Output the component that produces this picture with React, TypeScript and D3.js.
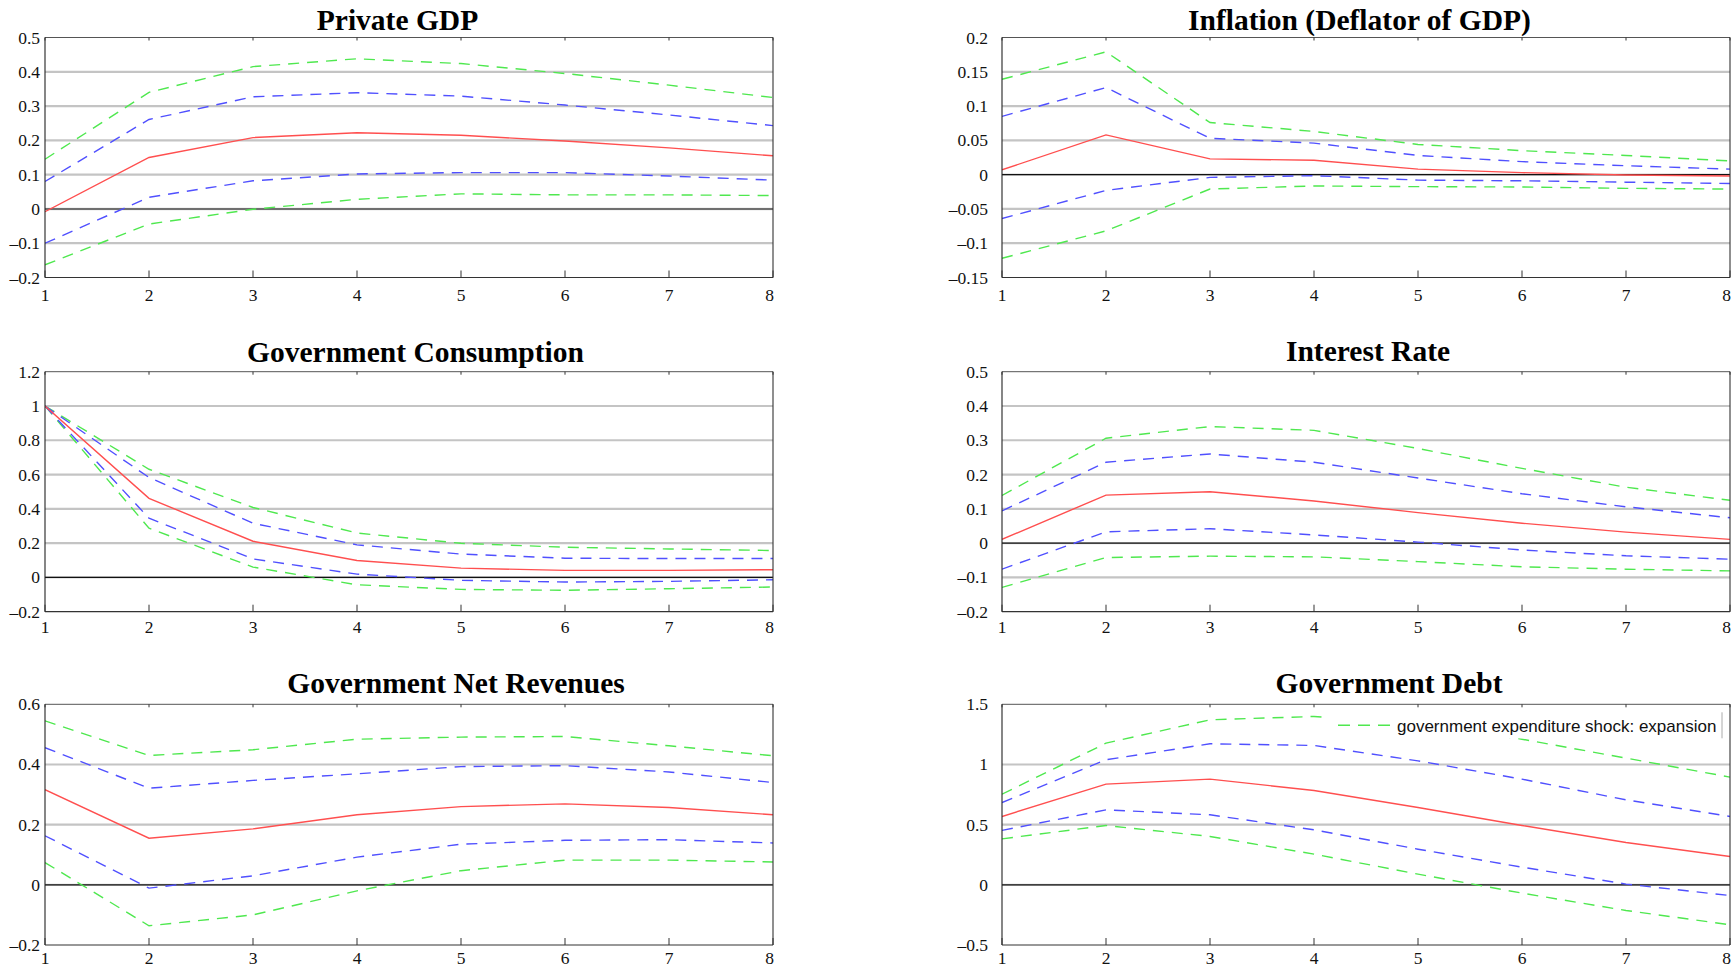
import React from 'react';
import * as d3 from 'd3';

// ---------- data ----------
const periods = [1, 2, 3, 4, 5, 6, 7, 8];

const titles = [
  'Private GDP',
  'Inflation (Deflator of GDP)',
  'Government Consumption',
  'Interest Rate',
  'Government Net Revenues',
  'Government Debt',
];

const legendLabel = 'government expenditure shock: expansion';

// y tick values (also the tick labels)
const privateGdpTicks = [-0.2, -0.1, 0, 0.1, 0.2, 0.3, 0.4, 0.5];
const inflationTicks = [-0.15, -0.1, -0.05, 0, 0.05, 0.1, 0.15, 0.2];
const govConsTicks = [-0.2, 0, 0.2, 0.4, 0.6, 0.8, 1, 1.2];
const interestTicks = [-0.2, -0.1, 0, 0.1, 0.2, 0.3, 0.4, 0.5];
const netRevTicks = [-0.2, 0, 0.2, 0.4, 0.6];
const debtTicks = [-0.5, 0, 0.5, 1, 1.5];

// Private GDP
const privateGdpMedian = [-0.008, 0.15, 0.208, 0.222, 0.215, 0.198, 0.178, 0.155];
const privateGdpUpperInner = [0.08, 0.261, 0.327, 0.339, 0.329, 0.303, 0.274, 0.243];
const privateGdpLowerInner = [-0.1, 0.034, 0.082, 0.102, 0.106, 0.106, 0.096, 0.084];
const privateGdpUpperOuter = [0.145, 0.34, 0.415, 0.438, 0.424, 0.395, 0.361, 0.325];
const privateGdpLowerOuter = [-0.163, -0.044, -0.001, 0.028, 0.044, 0.041, 0.041, 0.039];

// Inflation
const inflationMedian = [0.007, 0.058, 0.023, 0.021, 0.008, 0.003, -0.0005, -0.002];
const inflationUpperInner = [0.085, 0.127, 0.053, 0.046, 0.028, 0.019, 0.013, 0.008];
const inflationLowerInner = [-0.064, -0.023, -0.004, -0.0015, -0.008, -0.009, -0.011, -0.013];
const inflationUpperOuter = [0.139, 0.179, 0.076, 0.063, 0.044, 0.035, 0.028, 0.02];
const inflationLowerOuter = [-0.122, -0.082, -0.021, -0.0165, -0.0175, -0.018, -0.02, -0.021];

// Government Consumption
const govConsMedian = [1.0, 0.461, 0.211, 0.099, 0.054, 0.041, 0.041, 0.045];
const govConsUpperInner = [1.0, 0.583, 0.316, 0.19, 0.136, 0.112, 0.11, 0.11];
const govConsLowerInner = [1.0, 0.345, 0.108, 0.019, -0.017, -0.027, -0.023, -0.014];
const govConsUpperOuter = [1.0, 0.631, 0.408, 0.259, 0.199, 0.176, 0.166, 0.157];
const govConsLowerOuter = [1.0, 0.287, 0.06, -0.043, -0.07, -0.075, -0.066, -0.056];

// Interest Rate
const interestMedian = [0.011, 0.14, 0.15, 0.123, 0.089, 0.058, 0.032, 0.011];
const interestUpperInner = [0.094, 0.236, 0.26, 0.236, 0.19, 0.144, 0.106, 0.074];
const interestLowerInner = [-0.076, 0.033, 0.042, 0.024, 0.003, -0.02, -0.037, -0.047];
const interestUpperOuter = [0.139, 0.306, 0.34, 0.329, 0.276, 0.218, 0.163, 0.125];
const interestLowerOuter = [-0.129, -0.042, -0.038, -0.04, -0.054, -0.069, -0.076, -0.081];

// Government Net Revenues
const netRevMedian = [0.316, 0.155, 0.186, 0.233, 0.26, 0.269, 0.257, 0.233];
const netRevUpperInner = [0.456, 0.321, 0.347, 0.369, 0.393, 0.396, 0.375, 0.34];
const netRevLowerInner = [0.163, -0.011, 0.03, 0.092, 0.135, 0.148, 0.15, 0.139];
const netRevUpperOuter = [0.545, 0.43, 0.449, 0.484, 0.491, 0.493, 0.462, 0.429];
const netRevLowerOuter = [0.074, -0.136, -0.1, -0.02, 0.047, 0.082, 0.082, 0.076];

// Government Debt
const debtMedian = [0.568, 0.837, 0.878, 0.784, 0.643, 0.493, 0.352, 0.235];
const debtUpperInner = [0.684, 1.039, 1.172, 1.158, 1.03, 0.878, 0.706, 0.568];
const debtLowerInner = [0.452, 0.623, 0.582, 0.457, 0.296, 0.147, 0.006, -0.089];
const debtUpperOuter = [0.753, 1.177, 1.371, 1.399, 1.33, 1.21, 1.053, 0.895];
const debtLowerOuter = [0.382, 0.493, 0.402, 0.255, 0.089, -0.069, -0.213, -0.332];

const panelTicks = [privateGdpTicks, inflationTicks, govConsTicks, interestTicks, netRevTicks, debtTicks];
const panelSeries = [
  [privateGdpUpperOuter, privateGdpLowerOuter, privateGdpUpperInner, privateGdpLowerInner, privateGdpMedian],
  [inflationUpperOuter, inflationLowerOuter, inflationUpperInner, inflationLowerInner, inflationMedian],
  [govConsUpperOuter, govConsLowerOuter, govConsUpperInner, govConsLowerInner, govConsMedian],
  [interestUpperOuter, interestLowerOuter, interestUpperInner, interestLowerInner, interestMedian],
  [netRevUpperOuter, netRevLowerOuter, netRevUpperInner, netRevLowerInner, netRevMedian],
  [debtUpperOuter, debtLowerOuter, debtUpperInner, debtLowerInner, debtMedian],
];

// ---------- styling / layout ----------
const W = 1731;
const H = 969;
const GREEN = '#4fe84f';
const BLUE = '#5050ff';
const RED = '#ff4f4f';
const seriesStyle = [
  { color: GREEN, dash: '11,8' },
  { color: GREEN, dash: '11,8' },
  { color: BLUE, dash: '11,8' },
  { color: BLUE, dash: '11,8' },
  { color: RED, dash: null },
];

const columns = [
  { left: 45, right: 773, labelGap: 5 },
  { left: 1002, right: 1730, labelGap: 14 },
];
const rows = [
  { top: 37.5, bottom: 277.5, xLabelOffset: 23.5 },
  { top: 371.7, bottom: 611.7, xLabelOffset: 21 },
  { top: 704.3, bottom: 945, xLabelOffset: 19 },
];
const titleCenters = [397.5, 1359.5, 415.5, 1368, 456, 1389];
const titleBaselines = [30, 29.5, 361.7, 360.7, 693.3, 693];

const serif = '"Liberation Serif", "Times New Roman", Times, serif';
const sans = '"Liberation Sans", Arial, Helvetica, sans-serif';

const fmt = (v: number) => String(v).replace('-', '\u2013');

function Panel({ idx }: { idx: number }) {
  const col = columns[idx % 2];
  const row = rows[Math.floor(idx / 2)];
  const ticks = panelTicks[idx];
  const series = panelSeries[idx];

  const x = d3.scaleLinear().domain([periods[0], periods[periods.length - 1]]).range([col.left, col.right]);
  const y = d3.scaleLinear().domain([ticks[0], ticks[ticks.length - 1]]).range([row.bottom, row.top]);
  const line = d3
    .line<number>()
    .x((_, i) => x(periods[i]))
    .y((d) => y(d));

  const clipId = `clip-${idx}`;

  return (
    <g>
      <defs>
        <clipPath id={clipId}>
          <rect x={col.left} y={row.top} width={col.right - col.left} height={row.bottom - row.top} />
        </clipPath>
      </defs>
      {/* gridlines */}
      {ticks
        .filter((t) => t !== 0 && t !== ticks[0] && t !== ticks[ticks.length - 1])
        .map((t) => (
          <line key={`g${t}`} x1={col.left} x2={col.right} y1={y(t)} y2={y(t)} stroke="#c4c4c4" strokeWidth={2.2} />
        ))}
      {/* zero line */}
      <line x1={col.left} x2={col.right} y1={y(0)} y2={y(0)} stroke="#cfcfcf" strokeWidth={2.4} />
      <line x1={col.left} x2={col.right} y1={y(0)} y2={y(0)} stroke="#111" strokeWidth={1.1} />

      {/* series */}
      <g clipPath={`url(#${clipId})`}>
        {series.map((s, i) => (
          <path
            key={i}
            d={line(s) || ''}
            fill="none"
            stroke={seriesStyle[i].color}
            strokeWidth={1.4}
            strokeDasharray={seriesStyle[i].dash || undefined}
          />
        ))}
      </g>

      {/* frame */}
      <line x1={col.left} x2={col.right} y1={row.top} y2={row.top} stroke="#555" strokeWidth={1} />
      <line x1={col.left} x2={col.right} y1={row.bottom} y2={row.bottom} stroke="#333" strokeWidth={1.2} />
      <line x1={col.left} x2={col.left} y1={row.top} y2={row.bottom} stroke="#222" strokeWidth={1.1} />
      <line x1={col.right} x2={col.right} y1={row.top} y2={row.bottom} stroke="#333" strokeWidth={1.1} />

      {/* x ticks */}
      {periods.map((p) => (
        <g key={`xt${p}`}>
          <line x1={x(p)} x2={x(p)} y1={row.bottom} y2={row.bottom - 7} stroke="#333" strokeWidth={1} />
          <line x1={x(p)} x2={x(p)} y1={row.top} y2={row.top + 3} stroke="#333" strokeWidth={1} />
        </g>
      ))}
      {/* x tick labels */}
      {periods.map((p, i) => {
        const last = i === periods.length - 1;
        return (
          <text
            key={`xl${p}`}
            x={last ? x(p) + 1 : x(p)}
            y={row.bottom + row.xLabelOffset}
            textAnchor={last ? 'end' : 'middle'}
            fontFamily={serif}
            fontSize={17.5}
            fill="#111"
          >
            {String(p)}
          </text>
        );
      })}
      {/* y tick labels */}
      {ticks.map((t) => (
        <text
          key={`yl${t}`}
          x={col.left - col.labelGap}
          y={y(t) + 6}
          textAnchor="end"
          fontFamily={serif}
          fontSize={17.5}
          fill="#111"
        >
          {fmt(t)}
        </text>
      ))}
      {/* title */}
      <text
        x={titleCenters[idx]}
        y={titleBaselines[idx]}
        textAnchor="middle"
        fontFamily={serif}
        fontWeight="bold"
        fontSize={29.5}
        fill="#000"
      >
        {titles[idx]}
      </text>
    </g>
  );
}

function Legend() {
  const col = columns[1];
  const row = rows[2];
  const boxRight = col.right - 8;
  const boxLeft = boxRight - 400;
  const boxTop = row.top + 8;
  const boxH = 26;
  return (
    <g>
      <defs>
        <clipPath id="legend-clip">
          <rect x={boxLeft} y={boxTop} width={boxRight - boxLeft - 2} height={boxH} />
        </clipPath>
      </defs>
      <rect x={boxLeft} y={boxTop} width={boxRight - boxLeft} height={boxH} fill="#fff" />
      <line x1={boxRight} x2={boxRight} y1={boxTop} y2={boxTop + boxH} stroke="#aaa" strokeWidth={1} />
      <line
        x1={boxLeft + 16}
        x2={boxLeft + 68}
        y1={boxTop + 13}
        y2={boxTop + 13}
        stroke={GREEN}
        strokeWidth={1.4}
        strokeDasharray="12,8"
      />
      <text
        x={boxLeft + 75}
        y={boxTop + 19.5}
        fontFamily={sans}
        fontSize={17}
        fill="#111"
        clipPath="url(#legend-clip)"
      >
        {legendLabel}
      </text>
    </g>
  );
}

export default function App() {
  return (
    <svg
      width={W}
      height={H}
      viewBox={`0 0 ${W} ${H}`}
      style={{ position: 'absolute', left: 0, top: 0, background: '#fff' }}
    >
      <rect x={0} y={0} width={W} height={H} fill="#fff" />
      {titles.map((_, i) => (
        <Panel key={i} idx={i} />
      ))}
      <Legend />
    </svg>
  );
}
